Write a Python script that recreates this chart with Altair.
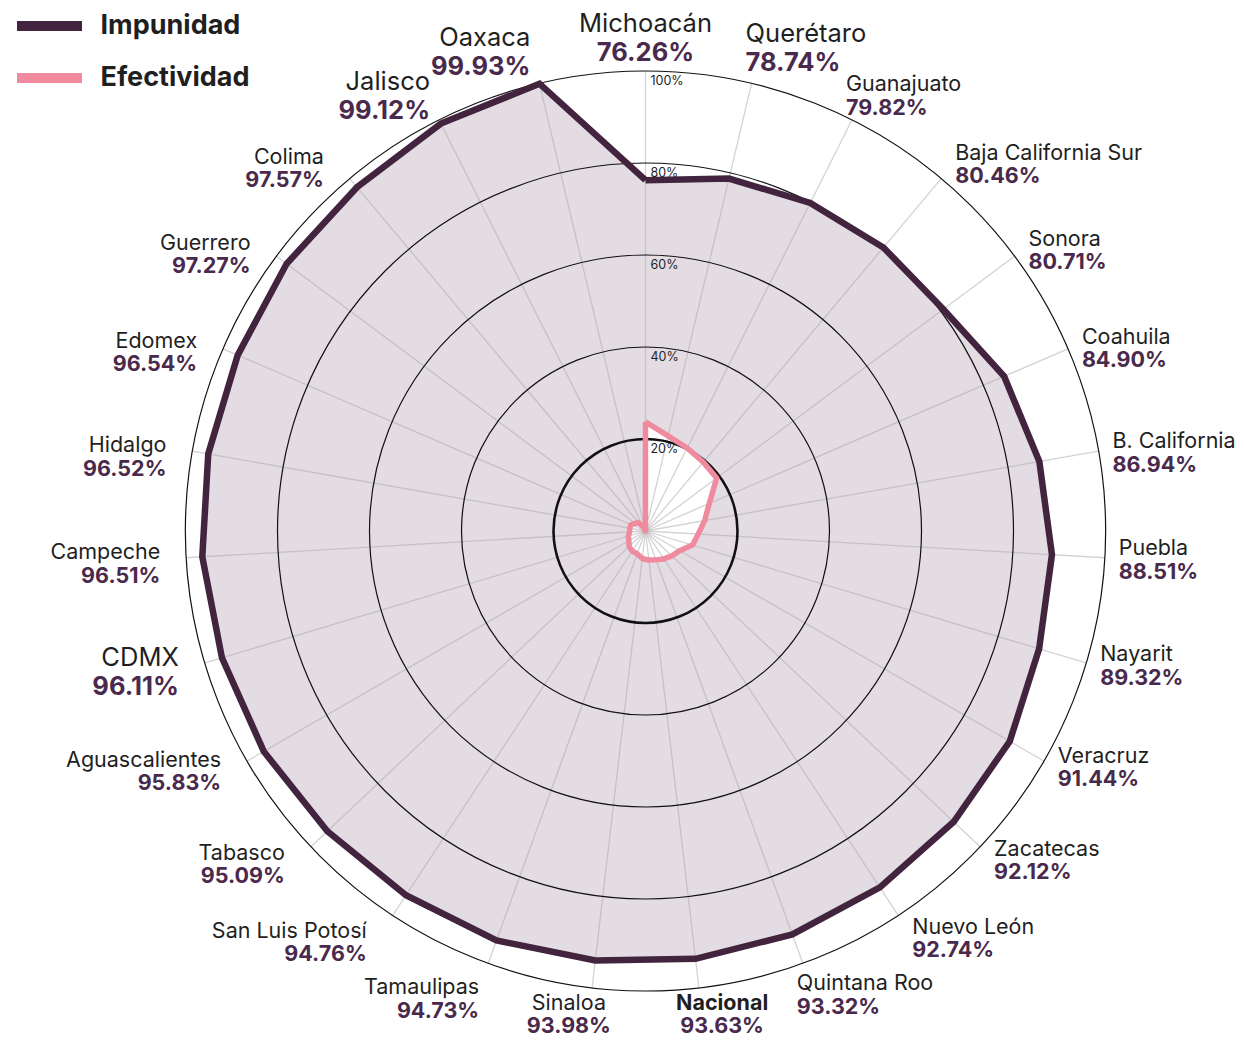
import math
import altair as alt
import pandas as pd

# ---------------- data ----------------
estados = ["Michoacán", "Querétaro", "Guanajuato", "Baja California Sur", "Sonora",
           "Coahuila", "B. California", "Puebla", "Nayarit", "Veracruz", "Zacatecas",
           "Nuevo León", "Quintana Roo", "Nacional", "Sinaloa", "Tamaulipas",
           "San Luis Potosí", "Tabasco", "Aguascalientes", "CDMX", "Campeche",
           "Hidalgo", "Edomex", "Guerrero", "Colima", "Jalisco", "Oaxaca"]
impunidad = [76.26, 78.74, 79.82, 80.46, 80.71, 84.90, 86.94, 88.51, 89.32, 91.44,
             92.12, 92.74, 93.32, 93.63, 93.98, 94.73, 94.76, 95.09, 95.83, 96.11,
             96.51, 96.52, 96.54, 97.27, 97.57, 99.12, 99.93]
efectividad = [23.74, 21.26, 20.18, 19.54, 19.29, 15.10, 13.06, 11.49, 10.68, 8.56,
               7.88, 7.26, 6.68, 6.37, 6.02, 5.27, 5.24, 4.91, 4.17, 3.89,
               3.49, 3.48, 3.46, 2.73, 2.43, 0.88, 0.07]
series = ["Impunidad", "Efectividad"]
anillos = [20, 40, 60, 80, 100]
anillos_txt = ["20%", "40%", "60%", "80%", "100%"]

# ---------------- style ----------------
destacados = ["Michoacán", "Querétaro", "Oaxaca", "Jalisco", "CDMX"]   # larger labels
negrita = ["Nacional"]                                                  # bold name
FONT = "Inter"
DARK = "#43243f"
PINK = "#f08b9f"
FILL = "#e3dde3"
VALC = "#4a2a4c"
TXT = "#1f1f1f"

N = len(estados)
R = 460.0            # px radius of the 100% ring
W, H = 1228, 1030    # view size
CX, CY = 637.5, 523  # centre inside the view

xs = alt.Scale(domain=[-CX, W - CX], nice=False, zero=False)
ys = alt.Scale(domain=[-(H - CY), CY], nice=False, zero=False)
ANG = f"datum.idx * 2 * PI / {N}"

# polygon table (closed)
rows = []
for s, vals in zip(series, [impunidad, efectividad]):
    for i in range(N + 1):
        k = i % N
        rows.append({"serie": s, "estado": estados[k], "idx": i, "valor": vals[k]})
poly = pd.DataFrame(rows)

spokes = pd.DataFrame({"estado": estados, "idx": list(range(N))})
rings = pd.DataFrame({"pct": anillos, "etiqueta": anillos_txt})

lab_rows = []
for i, (e, v) in enumerate(zip(estados, impunidad)):
    big = e in destacados
    lab_rows.append({"idx": i, "texto": e, "kind": "nombre", "grande": big,
                     "grupo": "nb" if e in negrita else "n"})
    lab_rows.append({"idx": i, "texto": f"{v:.2f}%", "kind": "valor", "grande": big,
                     "grupo": "v"})
labels = pd.DataFrame(lab_rows)

# ---------------- layers ----------------
pbase = alt.Chart(poly).transform_calculate(
    ang=ANG,
    px=f"datum.valor / 100 * {R} * sin(datum.ang)",
    py=f"datum.valor / 100 * {R} * cos(datum.ang)",
)
penc = dict(x=alt.X("px:Q", scale=xs, axis=None),
            y=alt.Y("py:Q", scale=ys, axis=None),
            order=alt.Order("idx:Q"))

fill_imp = pbase.transform_filter("datum.serie == 'Impunidad'").mark_line(
    fill=FILL, strokeOpacity=0, strokeWidth=0).encode(**penc)
fill_efe = pbase.transform_filter("datum.serie == 'Efectividad'").mark_line(
    fill="white", strokeOpacity=0, strokeWidth=0).encode(**penc)

spoke_layer = alt.Chart(spokes).transform_calculate(
    ang=ANG, z="0",
    ex=f"{R} * sin(datum.ang)", ey=f"{R} * cos(datum.ang)",
).mark_rule(stroke="#aaa5aa", strokeWidth=1.3, opacity=0.5).encode(
    x=alt.X("z:Q", scale=xs, axis=None), y=alt.Y("z:Q", scale=ys, axis=None),
    x2="ex:Q", y2="ey:Q")

ring_layer = alt.Chart(rings).transform_calculate(
    z="0", sw="datum.pct == 20 ? 2.6 : 1.2",
).mark_arc(theta=0, theta2=2 * math.pi, fill="transparent", stroke="#111").encode(
    x=alt.X("z:Q", scale=xs, axis=None), y=alt.Y("z:Q", scale=ys, axis=None),
    radius=alt.Radius("pct:Q", stack=None,
                      scale=alt.Scale(type="linear", domain=[0, 100], range=[0, R])),
    strokeWidth=alt.StrokeWidth("sw:Q", scale=None))

ring_text = alt.Chart(rings).transform_calculate(
    lx="5", ly=f"datum.pct / 100 * {R} - 3.5",
).mark_text(align="left", baseline="top", font=FONT, fontSize=12.5, color=TXT).encode(
    x=alt.X("lx:Q", scale=xs, axis=None), y=alt.Y("ly:Q", scale=ys, axis=None),
    text="etiqueta:N")

color = alt.Color("serie:N", scale=alt.Scale(domain=series, range=[DARK, PINK]),
                  legend=alt.Legend(title=None, orient="none", legendX=11.5, legendY=-12,
                                    symbolType="M-1.3,0H1.3", symbolSize=2500,
                                    symbolStrokeWidth=10, labelFont=FONT, labelFontSize=27,
                                    labelFontWeight="bold", labelColor=TXT, labelOffset=21,
                                    rowPadding=2, padding=0))
line_imp = pbase.transform_filter("datum.serie == 'Impunidad'").mark_line(
    strokeWidth=6.5, strokeJoin="miter").encode(color=color, **penc)
line_efe = pbase.transform_filter("datum.serie == 'Efectividad'").mark_line(
    strokeWidth=5.5, strokeJoin="round").encode(color=color, **penc)

YMIN = -(H - CY)
lbase = alt.Chart(labels).transform_calculate(
    ang=ANG, s="sin(datum.ang)", c="cos(datum.ang)",
).transform_calculate(
    al="abs(datum.s) < 0.2 ? 'center' : (datum.s > 0 ? 'left' : 'right')",
    gx="datum.s > 0 ? (datum.s > 0.5 ? 14 : -6) : (datum.s < -0.5 ? 26 : 9)",
    fs="datum.grande ? 25.5 : 21.5",
    hd="datum.grande ? 14.5 : 11.75",
    by0=f"{R} * datum.c - 3 + 36 * pow(datum.c, 3) + (datum.grande ? 5 * datum.c : 0)"
        " - (datum.s < -0.2 ? 4 : 0)",
).transform_calculate(
    by=f"clamp(datum.by0, {YMIN} + 22.5, {CY} - 30)",
).transform_calculate(
    tx=f"datum.al == 'center' ? ({R} + 200) * datum.s : "
       f"(datum.al == 'left' ? {R} * datum.s + datum.gx : {R} * datum.s - datum.gx)",
    ty="datum.kind == 'nombre' ? datum.by + datum.hd : datum.by - datum.hd",
)
text_layers = []
for al in ["left", "right", "center"]:
    for grupo, weight, col in [("n", "normal", TXT), ("nb", "bold", TXT), ("v", "bold", VALC)]:
        text_layers.append(
            lbase.transform_filter(f"datum.al == '{al}' && datum.grupo == '{grupo}'")
            .mark_text(align=al, baseline="middle", font=FONT, fontWeight=weight, color=col)
            .encode(x=alt.X("tx:Q", scale=xs, axis=None),
                    y=alt.Y("ty:Q", scale=ys, axis=None),
                    text="texto:N",
                    size=alt.Size("fs:Q", scale=None))
        )

chart = alt.layer(
    fill_imp, fill_efe, spoke_layer, ring_layer, ring_text, line_imp, line_efe, *text_layers
).properties(
    width=W, height=H, padding=0, autosize=alt.AutoSizeParams(type="none")
).configure_view(strokeWidth=0)

chart.save("out.html", embed_options={"renderer": "svg", "actions": False})
